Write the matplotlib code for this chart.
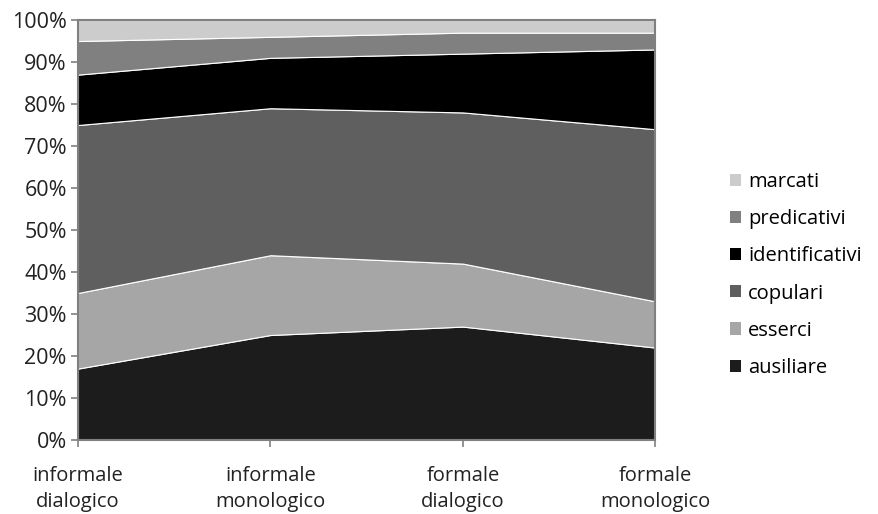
import matplotlib.pyplot as plt
import numpy as np

# ===================== 数据 =====================
categories = ["informale\ndialogico", "informale\nmonologico", "formale\ndialogico", "formale\nmonologico"]
ausiliare = [17, 25, 27, 22]
esserci = [18, 19, 15, 11]
copulari = [40, 35, 36, 41]
identificativi = [12, 12, 14, 19]
predicativi = [8, 5, 5, 4]
marcati = [5, 4, 3, 3]

series_names = ["ausiliare", "esserci", "copulari", "identificativi", "predicativi", "marcati"]
series_vals = [ausiliare, esserci, copulari, identificativi, predicativi, marcati]
colors = ["#1c1c1c", "#a6a6a6", "#5f5f5f", "#000000", "#808080", "#cccccc"]

plt.rcParams['font.family'] = ['Open Sans', 'DejaVu Sans']
plt.rcParams['font.size'] = 14.5

fig = plt.figure(figsize=(8.79, 5.14), dpi=100)
ax = fig.add_axes([0.0887, 0.144, 0.657, 0.817])

x = np.arange(len(categories))
vals = np.array(series_vals, dtype=float)
vals = vals / vals.sum(axis=0) * 100

ax.stackplot(x, vals, colors=colors, labels=series_names,
             edgecolor="white", linewidth=0.8)

ax.set_xlim(0, len(categories) - 1)
ax.set_ylim(0, 100)
ax.set_yticks(np.arange(0, 101, 10))
ax.set_yticklabels([f"{v}%" for v in range(0, 101, 10)], color="#222222", fontsize=15.5)
ax.set_xticks(x)
ax.set_xticklabels(categories, color="#222222", linespacing=1.4)

for s in ax.spines.values():
    s.set_color("#808080")
    s.set_linewidth(1.5)
ax.tick_params(axis="both", color="#808080", length=5, width=1.2, direction="out")
ax.tick_params(axis="x", pad=14)
ax.tick_params(axis="y", pad=3)

# 图例：marcati 在最上面
handles, labels = ax.get_legend_handles_labels()
leg = fig.legend(handles[::-1], labels[::-1], loc="center left",
                 bbox_to_anchor=(0.81, 0.465), frameon=False,
                 handlelength=0.55, handleheight=0.55, handletextpad=0.35,
                 labelspacing=0.85, fontsize=14.5)
for h in leg.legend_handles:
    h.set_edgecolor("none")

fig.savefig("out.png", dpi=100)
